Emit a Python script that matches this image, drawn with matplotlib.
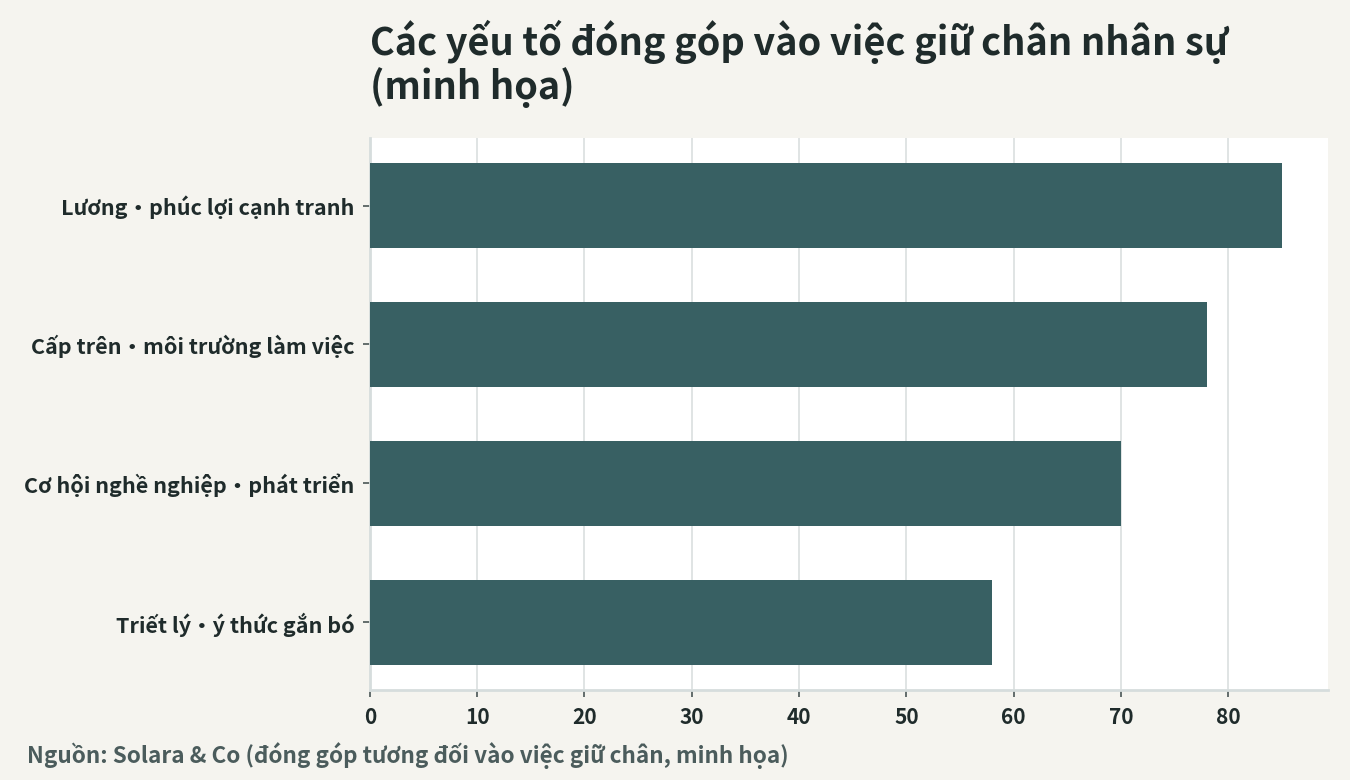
import matplotlib
matplotlib.use("Agg")
import matplotlib.pyplot as plt

plt.rcParams['font.family'] = ['Noto Sans CJK JP', 'DejaVu Sans']

# data (top to bottom as shown)
factors = ["Lương・phúc lợi cạnh tranh",
           "Cấp trên・môi trường làm việc",
           "Cơ hội nghề nghiệp・phát triển",
           "Triết lý・ý thức gắn bó"]
scores = [85, 78, 70, 58]

bg = "#f5f4ef"
bar_col = "#386063"
text_col = "#1f2b2b"
grid_col = "#dde2e2"

fig = plt.figure(figsize=(13.5, 7.8), dpi=100, facecolor=bg)
ax = fig.add_axes([0.274, 0.1154, 0.7096, 0.7077])
ax.set_facecolor("white")

ypos = list(range(len(factors)))
ax.barh(ypos, scores, height=0.61, color=bar_col, zorder=3)
ax.set_yticks(ypos)
ax.set_yticklabels(factors)
ax.set_ylim(3.486, -0.486)
ax.set_xlim(0, 89.3)
ax.set_xticks(range(0, 90, 10))

ax.grid(axis="x", color=grid_col, linewidth=1.3, zorder=0)
ax.grid(axis="y", visible=False)
for s in ["top", "right"]:
    ax.spines[s].set_visible(False)
for s in ["left", "bottom"]:
    ax.spines[s].set_color("#d6dddd")
    ax.spines[s].set_linewidth(2)

ax.tick_params(axis="both", colors="#4a5656", length=5, width=1.2,
               labelcolor=text_col)
ax.tick_params(axis="y", labelsize=15.5, pad=6)
ax.tick_params(axis="x", labelsize=15, pad=7)
for lab in ax.get_yticklabels() + ax.get_xticklabels():
    lab.set_fontweight("bold")

fig.text(0.274, 0.862, "Các yếu tố đóng góp vào việc giữ chân nhân sự\n(minh họa)",
         fontsize=27.3, fontweight="bold", color=text_col, ha="left", va="bottom",
         linespacing=1.1)
fig.text(0.02, 0.032, "Nguồn: Solara & Co (đóng góp tương đối vào việc giữ chân, minh họa)",
         fontsize=16.2, fontweight="bold", color="#4b5c5c", ha="left", va="center")

fig.savefig("out.png", dpi=100, facecolor=bg)
